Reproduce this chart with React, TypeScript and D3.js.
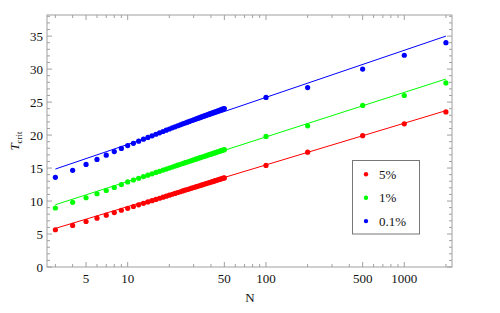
import React from "react";
import * as d3 from "d3";

const nValues = [3,4,5,6,7,8,9,10,11,12,13,14,15,16,17,18,19,20,21,22,23,24,25,26,27,28,29,30,31,32,33,34,35,36,37,38,39,40,41,42,43,44,45,46,47,48,49,50,100,200,500,1000,2000];

const red5 = [5.65,6.3,6.9,7.4,7.85,8.25,8.6,8.9,9.17,9.42,9.65,9.86,10.06,10.25,10.42,10.58,10.74,10.89,11.03,11.16,11.29,11.41,11.53,11.64,11.75,11.85,11.95,12.05,12.14,12.23,12.32,12.41,12.49,12.57,12.65,12.73,12.8,12.87,12.94,13.01,13.08,13.15,13.21,13.27,13.34,13.4,13.46,13.51,15.4,17.4,19.9,21.7,23.5];

const green1 = [8.94,9.8,10.5,11.1,11.6,12.05,12.5,12.9,13.19,13.45,13.7,13.92,14.13,14.33,14.51,14.69,14.85,15.01,15.16,15.3,15.43,15.56,15.69,15.81,15.92,16.03,16.14,16.24,16.34,16.44,16.53,16.62,16.71,16.79,16.88,16.96,17.04,17.11,17.19,17.26,17.33,17.4,17.47,17.54,17.6,17.67,17.73,17.79,19.8,21.4,24.5,26.0,27.9];

const blue01 = [13.6,14.65,15.55,16.3,16.95,17.5,17.97,18.4,18.75,19.08,19.37,19.64,19.89,20.12,20.34,20.54,20.74,20.92,21.09,21.25,21.41,21.55,21.7,21.83,21.96,22.09,22.21,22.32,22.43,22.54,22.64,22.75,22.84,22.94,23.03,23.12,23.2,23.29,23.37,23.45,23.53,23.6,23.68,23.75,23.82,23.89,23.96,24.02,25.7,27.2,30.0,32.1,34.0];

const fitN = [3, 2000];
const fitRed = [5.85, 23.7];
const fitGreen = [9.44, 28.5];
const fitBlue = [14.85, 35.0];

const seriesNames = ["5%", "1%", "0.1%"];
const seriesColors = ["#ff0000", "#00ff00", "#0000ff"];

const xMajorTicks = [5, 10, 50, 100, 500, 1000];
const xMinorTicks = [3,4,6,7,8,9,20,30,40,60,70,80,90,200,300,400,600,700,800,900,2000];
const yMajorTicks = [0,5,10,15,20,25,30,35];

export default function App() {
  const W = 500, H = 313;
  const left = 47, right = 452, top = 15, bottom = 267;
  const x = d3.scaleLog().domain([2.61, 2213]).range([left, right]);
  const y = d3.scaleLinear().domain([0, 38.2]).range([bottom, top]);
  const yMinor = d3.range(0, 39, 1).filter(v => v % 5 !== 0);

  const series = [
    { name: seriesNames[0], color: seriesColors[0], vals: red5, fit: fitRed },
    { name: seriesNames[1], color: seriesColors[1], vals: green1, fit: fitGreen },
    { name: seriesNames[2], color: seriesColors[2], vals: blue01, fit: fitBlue },
  ];

  const line = d3.line<[number, number]>().x(d => x(d[0])).y(d => y(d[1]));
  const frameColor = "#a0a0a0";
  const font = "'Liberation Serif', 'Times New Roman', Times, serif";

  return (
    <svg width={W} height={H} style={{ position: "absolute", left: 0, top: 0, background: "#fff", fontFamily: font }}>
      {series.map(s => (
        <path key={"l" + s.name} d={line(fitN.map((n, i) => [n, s.fit[i]]) as [number, number][]) || ""}
          stroke={s.color} strokeWidth={1} fill="none" />
      ))}
      {series.map(s => (
        <g key={"p" + s.name} fill={s.color}>
          {nValues.map((n, i) => (
            <circle key={i} cx={x(n)} cy={y(s.vals[i])} r={2.6} />
          ))}
        </g>
      ))}
      <rect x={left} y={top} width={right - left} height={bottom - top} fill="none" stroke={frameColor} strokeWidth={1} />
      {xMajorTicks.map(t => (
        <g key={"xm" + t}>
          <line x1={x(t)} x2={x(t)} y1={bottom} y2={bottom - 5} stroke={frameColor} />
          <line x1={x(t)} x2={x(t)} y1={top} y2={top + 5} stroke={frameColor} />
          <text x={x(t)} y={282.5} textAnchor="middle" style={{ fontFamily: font }} fontSize={13} fill="#111">{t}</text>
        </g>
      ))}
      {xMinorTicks.map(t => (
        <g key={"xn" + t}>
          <line x1={x(t)} x2={x(t)} y1={bottom} y2={bottom - 3} stroke={frameColor} />
          <line x1={x(t)} x2={x(t)} y1={top} y2={top + 3} stroke={frameColor} />
        </g>
      ))}
      {yMajorTicks.map(t => (
        <g key={"ym" + t}>
          <line x1={left} x2={left + 5} y1={y(t)} y2={y(t)} stroke={frameColor} />
          <line x1={right} x2={right - 5} y1={y(t)} y2={y(t)} stroke={frameColor} />
          <text x={43} y={y(t)} dy="0.35em" textAnchor="end" style={{ fontFamily: font }} fontSize={13} fill="#111">{t}</text>
        </g>
      ))}
      {yMinor.map(t => (
        <g key={"yn" + t}>
          <line x1={left} x2={left + 3} y1={y(t)} y2={y(t)} stroke={frameColor} />
          <line x1={right} x2={right - 3} y1={y(t)} y2={y(t)} stroke={frameColor} />
        </g>
      ))}
      <text x={250} y={302} textAnchor="middle" style={{ fontFamily: font }} fontSize={13} fill="#111">N</text>
      <text transform={`translate(19, ${(top + bottom) / 2}) rotate(-90)`} textAnchor="middle" style={{ fontFamily: font }} fontSize={13} fill="#111">
        <tspan fontStyle="italic">T</tspan>
        <tspan fontSize={9} dy={3}>crit</tspan>
      </text>
      <rect x={352.5} y={160.5} width={67} height={73.5} fill="#fff" stroke="#777" strokeWidth={1} />
      {series.map((s, i) => (
        <g key={"lg" + s.name}>
          <circle cx={366} cy={174.3 + i * 23.4} r={2.2} fill={s.color} />
          <text x={379} y={174.3 + i * 23.4} dy="0.35em" style={{ fontFamily: font }} fontSize={13} fill="#111">{s.name}</text>
        </g>
      ))}
    </svg>
  );
}
